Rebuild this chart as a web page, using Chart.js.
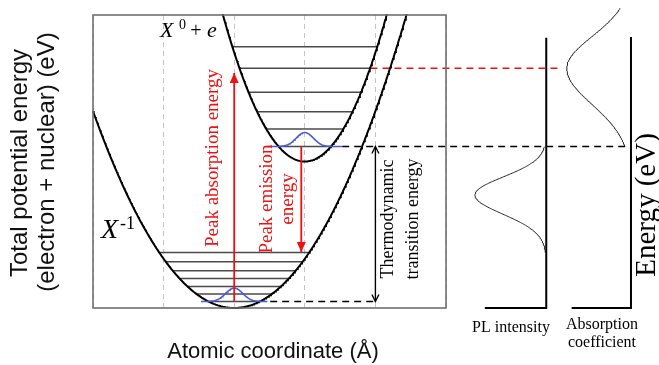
<!DOCTYPE html>
<html>
<head>
<meta charset="utf-8">
<script src="https://cdn.jsdelivr.net/npm/chart.js@4.4.0/dist/chart.umd.min.js"></script>
<style>
  html, body { margin: 0; padding: 0; background: #fff; }
  #wrap { position: relative; width: 659px; height: 365px; }
</style>
</head>
<body>
<div id="wrap"><canvas id="grafico"></canvas></div>
<script>
// ====== DATA (x = atomic coordinate, y = energy; box = 0..5 x 0..10) ======
const gridX = [0, 1, 2, 3, 4, 5];

// parabolas: [x of minimum, energy of minimum, curvature]
const curveLower = [2.0, 0.0, 1.68];   // X^-1
const curveUpper = [3.0, 5.0, 3.72];   // X^0 + e

// vibrational levels (energy)
const levelsLower = [0.22, 0.48, 0.73, 1.01, 1.27, 1.58, 1.89];
const levelsUpper = [5.51, 6.11, 6.70, 7.36, 8.18, 8.92];

// ground state wave packets: [x centre, baseline energy, height, sigma, half span]
const waveLower = [2.0, 0.22, 0.46, 0.12, 0.47];
const waveUpper = [3.0, 5.51, 0.48, 0.12, 0.53];

// arrows: [x, energy from, energy to]
const arrowAbs = [2.0, 0.22, 8.02];
const arrowEmi = [2.95, 5.51, 1.91];
const arrowThermo = [4.0, 5.51, 0.22];

// dashed guides: [energy, x from, x to]
const guideAbs = [8.18, 3.93, 6.61];
const guideZpl = [5.51, 3.53, 7.58];
const guideGround = [0.22, 2.51, 4.0];

// spectra: [peak energy, relative height, width above, width below, energy from, energy to]
const specPL = [3.86, 1.0, 0.61, 0.66, 1.90, 5.51];
const specAbs = [8.18, 0.9, 1.09, 1.23, 5.51, 10.24];

// ====== LAYOUT ======
const panelPL = { axis: 6.42, left: 5.55, top: 9.22, scale: 1.01 };
const panelAbs = { axis: 7.62, left: 6.78, top: 9.25, scale: 1.01 };

const RED = "#f01010";
const BLUE = "#4a5cd4";
const SERIF = '"Liberation Serif", "Times New Roman", serif';
const SANS = '"Liberation Sans", Arial, sans-serif';

// ====== CURVES ======
function parabola([x0, e0, k], xFrom, xTo) {
  const pts = [];
  for (let x = xFrom; x <= xTo + 1e-9; x += 0.01) pts.push({ x, y: e0 + k * (x - x0) ** 2 });
  return pts;
}

function levelEnds([x0, e0, k], e) {
  const d = Math.sqrt((e - e0) / k);
  return [{ x: x0 - d, y: e }, { x: x0 + d, y: e }];
}

function wave([xc, base, h, s, span]) {
  const pts = [];
  for (let x = xc - span; x <= xc + span + 1e-9; x += 0.01)
    pts.push({ x, y: base + h * Math.exp(-((x - xc) ** 2) / (2 * s * s)) });
  return pts;
}

function spectrum([ep, h, sUp, sDown, eFrom, eTo], panel) {
  const pts = [];
  for (let e = eFrom; e <= eTo + 1e-9; e += 0.02) {
    const s = e > ep ? sUp : sDown;
    pts.push({ x: panel.axis - panel.scale * h * Math.exp(-((e - ep) ** 2) / (2 * s * s)), y: e });
  }
  return pts;
}

const line = (data, color, width, extra = {}) => ({
  data, borderColor: color, borderWidth: width, showLine: true,
  pointRadius: 0, fill: false, tension: 0, ...extra
});

const vArrow = ([x, e1, e2]) => [{ x, y: e1 }, { x, y: e2 }];
const hGuide = ([e, x1, x2]) => [{ x: x1, y: e }, { x: x2, y: e }];
const panelAxis = p => [{ x: p.left, y: 0 }, { x: p.axis, y: 0 }, { x: p.axis, y: p.top }];

const datasets = [
  line(vArrow(arrowAbs), RED, 1.8, { heads: "end", headFill: true }),
  line(vArrow(arrowEmi), RED, 1.8, { heads: "end", headFill: true }),
  line(vArrow(arrowThermo), "#000", 1.4, { heads: "both", headFill: false }),
  line(wave(waveUpper), BLUE, 1.6),
  line(wave(waveLower), BLUE, 1.6),
  line(parabola(curveLower, 0, 4.6), "#000", 2),
  line(parabola(curveUpper, 1.6, 4.4), "#000", 2),
  line(hGuide(guideAbs), RED, 1.5, { borderDash: [7, 5], clip: false }),
  line(hGuide(guideZpl), "#000", 1.5, { borderDash: [7, 5], clip: false }),
  line(hGuide(guideGround), "#000", 1.5, { borderDash: [7, 5] }),
  ...levelsUpper.map(e => line(levelEnds(curveUpper, e), "#4a4a4a", 1.5)),
  ...levelsLower.map(e => line(levelEnds(curveLower, e), "#4a4a4a", 1.5)),
  line(panelAxis(panelPL), "#000", 2, { clip: false }),
  line(panelAxis(panelAbs), "#000", 2, { clip: false }),
  line(spectrum(specPL, panelPL), "#222", 1, { clip: false }),
  line(spectrum(specAbs, panelAbs), "#222", 1, { clip: false })
];

// ====== TEXTS ======
const textos = [
  { text: "Total potential energy", x: 27, y: 163, rot: true, font: "24px " + SANS, color: "#111" },
  { text: "(electron + nuclear) (eV)", x: 54, y: 162, rot: true, font: "24px " + SANS, color: "#111" },
  { text: "Atomic coordinate (Å)", x: 273, y: 358, font: "22px " + SANS, color: "#111" },
  { text: "Peak absorption energy", x: 218, y: 158, rot: true, font: "19px " + SERIF, color: RED },
  { text: "Peak emission", x: 272, y: 199, rot: true, font: "19px " + SERIF, color: RED },
  { text: "energy", x: 293, y: 199, rot: true, font: "19px " + SERIF, color: RED },
  { text: "Thermodynamic", x: 393, y: 219, rot: true, font: "18px " + SERIF },
  { text: "transition energy", x: 418, y: 219, rot: true, font: "18px " + SERIF },
  { text: "PL intensity", x: 511, y: 332, font: "16px " + SERIF },
  { text: "Absorption", x: 602, y: 329, font: "16px " + SERIF },
  { text: "coefficient", x: 602, y: 347, font: "16px " + SERIF },
  { text: "Energy (eV)", x: 655, y: 205, rot: true, font: "29px " + SERIF },
  // X^0 + e
  { text: "X", x: 160, y: 37, align: "left", font: "italic 22px " + SERIF },
  { text: "0", x: 179, y: 29, align: "left", font: "14px " + SERIF },
  { text: "+", x: 196, y: 37, font: "20px " + SERIF },
  { text: "e", x: 207, y: 37, align: "left", font: "italic 22px " + SERIF },
  // X^-1
  { text: "X", x: 101, y: 238, align: "left", font: "italic 28px " + SERIF },
  { text: "-1", x: 120, y: 229, align: "left", font: "18px " + SERIF }
];

function escreve(ctx, t) {
  ctx.save();
  ctx.font = t.font;
  ctx.fillStyle = t.color || "#000";
  ctx.textAlign = t.align || "center";
  ctx.textBaseline = "alphabetic";
  ctx.translate(t.x, t.y);
  if (t.rot) ctx.rotate(-Math.PI / 2);
  ctx.fillText(t.text, 0, 0);
  ctx.restore();
}

// ====== PLUGINS ======
const moldura = {
  id: "moldura",
  afterDatasetsDraw(chart) {
    const { ctx, chartArea: a } = chart;
    ctx.save();
    ctx.strokeStyle = "#707070";
    ctx.lineWidth = 1.6;
    ctx.strokeRect(a.left, a.top, a.right - a.left, a.bottom - a.top);
    ctx.restore();
  }
};

const setas = {
  id: "setas",
  afterDatasetsDraw(chart) {
    const ctx = chart.ctx;
    chart.data.datasets.forEach((ds, i) => {
      if (!ds.heads) return;
      const pts = chart.getDatasetMeta(i).data;
      const pares = ds.heads === "both" ? [[pts[1], pts[0]], [pts[0], pts[1]]] : [[pts[0], pts[1]]];
      pares.forEach(([de, ponta]) => {
        const ang = Math.atan2(ponta.y - de.y, ponta.x - de.x);
        ctx.save();
        ctx.translate(ponta.x, ponta.y);
        ctx.rotate(ang);
        ctx.beginPath();
        if (ds.headFill) {
          ctx.moveTo(0, 0);
          ctx.lineTo(-10, -4.5);
          ctx.lineTo(-10, 4.5);
          ctx.closePath();
          ctx.fillStyle = ds.borderColor;
          ctx.fill();
        } else {
          ctx.moveTo(-7, -3.5);
          ctx.lineTo(0, 0);
          ctx.lineTo(-7, 3.5);
          ctx.strokeStyle = ds.borderColor;
          ctx.lineWidth = 1.4;
          ctx.stroke();
        }
        ctx.restore();
      });
    });
  }
};

const rotulos = {
  id: "rotulos",
  afterDraw(chart) {
    textos.forEach(t => escreve(chart.ctx, t));
  }
};

// ====== CHART ======
new Chart(document.getElementById("grafico"), {
  type: "scatter",
  data: { datasets },
  options: {
    responsive: true,
    maintainAspectRatio: false,
    animation: false,
    events: [],
    layout: { padding: { left: 93, right: 213, top: 15, bottom: 57 } },
    plugins: { legend: { display: false }, tooltip: { enabled: false } },
    scales: {
      x: {
        type: "linear",
        bounds: "data",
        afterDataLimits: s => { s.min = 0; s.max = 5; },
        afterBuildTicks: s => { s.ticks = gridX.map(v => ({ value: v })); },
        ticks: { display: false },
        grid: { color: "#c4c4c4", lineWidth: 1, drawTicks: false },
        border: { display: false, dash: [5, 4] }
      },
      y: {
        type: "linear",
        display: false,
        bounds: "data",
        afterDataLimits: s => { s.min = 0; s.max = 10; }
      }
    }
  },
  plugins: [moldura, setas, rotulos]
});
</script>
</body>
</html>
